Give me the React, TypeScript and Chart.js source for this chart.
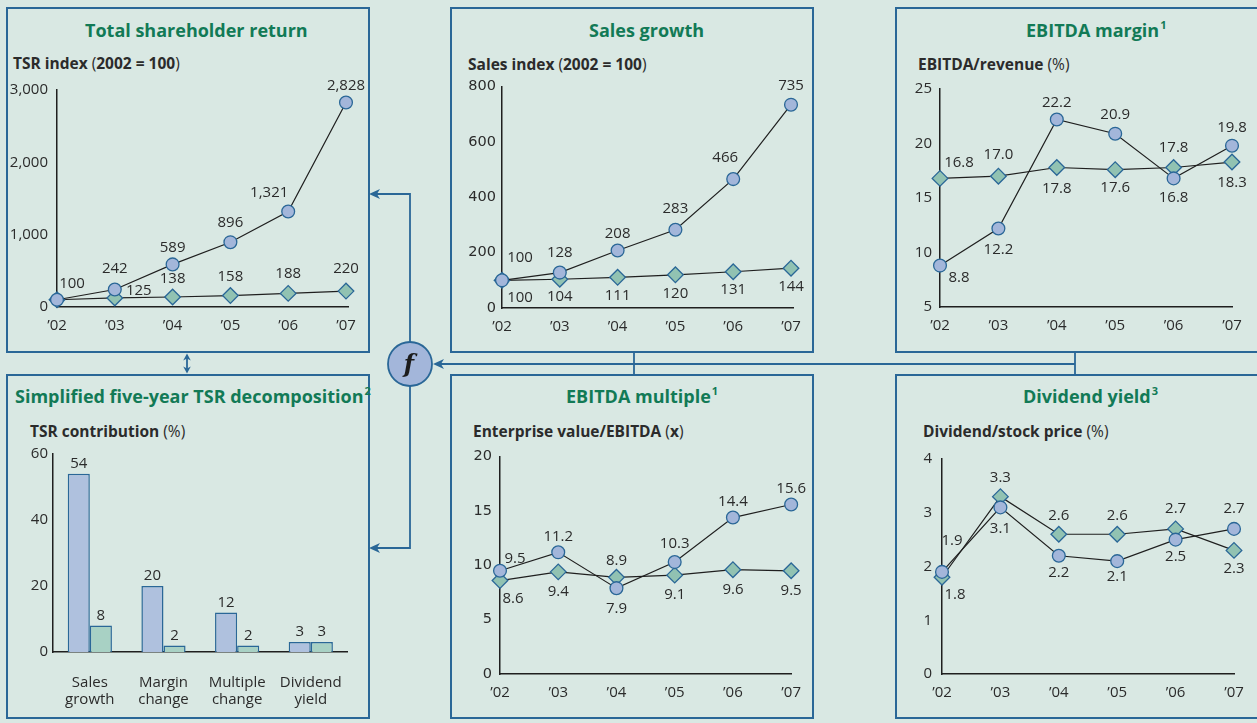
import React, { useEffect, useRef } from 'react';
import { Chart, registerables } from 'chart.js';

Chart.register(...registerables);

// ---------- data ----------
const years = ['’02', '’03', '’04', '’05', '’06', '’07'];

const tsrCompany = [100, 242, 589, 896, 1321, 2828];
const tsrPeers = [100, 125, 138, 158, 188, 220];

const salesCompany = [100, 128, 208, 283, 466, 735];
const salesPeers = [100, 104, 111, 120, 131, 144];

const marginCompany = [8.8, 12.2, 22.2, 20.9, 16.8, 19.8];
const marginPeers = [16.8, 17.0, 17.8, 17.6, 17.8, 18.3];

const multipleCompany = [9.5, 11.2, 7.9, 10.3, 14.4, 15.6];
const multiplePeers = [8.6, 9.4, 8.9, 9.1, 9.6, 9.5];

const yieldCompany = [1.9, 3.1, 2.2, 2.1, 2.5, 2.7];
const yieldPeers = [1.8, 3.3, 2.6, 2.6, 2.7, 2.3];

const decompCategories = ['Sales growth', 'Margin change', 'Multiple change', 'Dividend yield'];
const decompCompany = [54, 20, 12, 3];
const decompPeers = [8, 2, 2, 3];

// ---------- palette ----------
const BG = '#d9e8e3';
const BLUE = '#2a6797';
const GREEN_TITLE = '#127a56';
const TEXT = '#2b2b2b';
const AXIS = '#1f1f1f';
const CIRCLE_FILL = '#a3b6da';
const DIAMOND_FILL = '#91c2b2';
const BAR_BLUE = '#afc1de';
const BAR_GREEN = '#a8d1c4';
const FONT = '"Open Sans", "Noto Sans", sans-serif';
const WIDE_DIGITS = '"DejaVu Sans", sans-serif';
const LABEL_SIZE = 15;

type Off = [number, number] | null;

const fmtThousands = (v: number) => v.toLocaleString('en-US');
const fmtOneDecimal = (v: number) => v.toFixed(1);
const fmtInt = (v: number) => String(v);

// Draws each mark's value next to it, shifted by a per-point pixel offset.
function valueLabels(offsets: Off[][], fmt: (v: number) => string) {
  return {
    id: 'valueLabels',
    afterDatasetsDraw(chart: any) {
      const ctx = chart.ctx;
      ctx.save();
      ctx.font = `${LABEL_SIZE}px ${FONT}`;
      ctx.fillStyle = TEXT;
      ctx.textAlign = 'center';
      ctx.textBaseline = 'middle';
      chart.data.datasets.forEach((ds: any, i: number) => {
        const meta = chart.getDatasetMeta(i);
        meta.data.forEach((el: any, j: number) => {
          const o = offsets[i] && offsets[i][j];
          if (!o) return;
          const raw = ds.data[j];
          const v = typeof raw === 'number' ? raw : raw.y;
          ctx.fillText(fmt(v), el.x + o[0], el.y + o[1]);
        });
      });
      ctx.restore();
    },
  };
}

interface LineOpts {
  company: number[];
  peers: number[];
  yMin: number;
  yMax: number;
  yStep: number;
  yWidth: number;
  xHeight: number;
  padTop: number;
  padRight: number;
  xMax: number;
  yTickPad: number;
  yFont: string;
  yFmt: (v: number) => string;
  valueFmt: (v: number) => string;
  offsets: Off[][];
}

function lineConfig(o: LineOpts): any {
  const series = (vals: number[], style: string, fill: string, radius: number) => ({
    data: vals.map((y, x) => ({ x, y })),
    borderColor: AXIS,
    borderWidth: 1.2,
    pointStyle: style,
    pointRadius: radius,
    pointHoverRadius: radius,
    pointBackgroundColor: fill,
    pointBorderColor: BLUE,
    pointBorderWidth: 1.3,
    tension: 0,
    fill: false,
    clip: false,
  });
  return {
    type: 'line',
    data: {
      datasets: [
        series(o.company, 'circle', CIRCLE_FILL, 6.4),
        series(o.peers, 'rectRot', DIAMOND_FILL, 7.8),
      ],
    },
    options: {
      responsive: false,
      animation: false,
      devicePixelRatio: 1,
      events: [],
      layout: { padding: { top: o.padTop, right: o.padRight, left: 0, bottom: 0 } },
      plugins: { legend: { display: false }, tooltip: { enabled: false } },
      scales: {
        x: {
          type: 'linear',
          min: 0,
          max: o.xMax,
          grid: { display: false, drawTicks: false },
          border: { display: true, color: AXIS, width: 1.5 },
          ticks: {
            stepSize: 1,
            includeBounds: false,
            autoSkip: false,
            maxRotation: 0,
            padding: 10,
            color: TEXT,
            font: { family: FONT, size: LABEL_SIZE },
            callback: (v: number) => (Number.isInteger(v) && years[v] ? years[v] : ''),
          },
          afterFit: (s: any) => {
            s.height = o.xHeight;
          },
        },
        y: {
          min: o.yMin,
          max: o.yMax,
          grid: { display: false, drawTicks: false },
          border: { display: true, color: AXIS, width: 1.5 },
          ticks: {
            stepSize: o.yStep,
            padding: o.yTickPad,
            color: TEXT,
            font: { family: o.yFont, size: o.yFont === FONT ? LABEL_SIZE : 14.5 },
            callback: (v: number) => o.yFmt(v),
          },
          afterFit: (s: any) => {
            s.width = o.yWidth;
          },
        },
      },
    },
    plugins: [valueLabels(o.offsets, o.valueFmt)],
  };
}

function barConfig(): any {
  const barSet = (vals: number[], color: string) => ({
    data: vals,
    backgroundColor: color,
    borderColor: BLUE,
    borderWidth: 1.5,
    categoryPercentage: 0.6,
    barPercentage: 1.0,
  });
  const offs: Off[] = decompCategories.map(() => [0, -10]);
  return {
    type: 'bar',
    data: {
      labels: decompCategories.map((c) => c.split(' ')),
      datasets: [barSet(decompCompany, BAR_BLUE), barSet(decompPeers, BAR_GREEN)],
    },
    options: {
      responsive: false,
      animation: false,
      devicePixelRatio: 1,
      events: [],
      layout: { padding: { top: 13, right: 18, left: 0, bottom: 0 } },
      plugins: { legend: { display: false }, tooltip: { enabled: false } },
      scales: {
        x: {
          grid: { display: false, drawTicks: false },
          border: { display: true, color: AXIS, width: 1.5 },
          ticks: {
            padding: 22,
            color: TEXT,
            maxRotation: 0,
            autoSkip: false,
            font: { family: FONT, size: 15, lineHeight: 1.15 },
          },
          afterFit: (s: any) => {
            s.height = 64;
          },
        },
        y: {
          min: 0,
          max: 60,
          grid: { display: false, drawTicks: false },
          border: { display: true, color: AXIS, width: 1.5 },
          ticks: {
            stepSize: 20,
            padding: 5,
            color: TEXT,
            font: { family: FONT, size: LABEL_SIZE },
          },
          afterFit: (s: any) => {
            s.width = 44;
          },
        },
      },
    },
    plugins: [valueLabels([offs, offs], fmtInt)],
  };
}

function ChartCanvas(props: { left: number; top: number; width: number; height: number; build: () => any }) {
  const ref = useRef<HTMLCanvasElement>(null);
  useEffect(() => {
    const chart = new Chart(ref.current as HTMLCanvasElement, props.build());
    return () => chart.destroy();
  }, []);
  return (
    <canvas
      ref={ref}
      width={props.width}
      height={props.height}
      style={{ position: 'absolute', left: props.left, top: props.top, width: props.width, height: props.height }}
    />
  );
}

function Box(props: { left: number; top: number; width: number; height: number }) {
  return (
    <div
      style={{
        position: 'absolute',
        left: props.left,
        top: props.top,
        width: props.width,
        height: props.height,
        border: `2px solid ${BLUE}`,
        boxSizing: 'border-box',
      }}
    />
  );
}

function Title(props: { left: number; cy: number; children: React.ReactNode }) {
  return (
    <div
      style={{
        position: 'absolute',
        left: props.left,
        top: props.cy - 13,
        height: 26,
        lineHeight: '26px',
        fontSize: 18,
        fontWeight: 700,
        color: GREEN_TITLE,
        fontFamily: FONT,
        whiteSpace: 'nowrap',
      }}
    >
      {props.children}
    </div>
  );
}

function Sub(props: { left: number; cy: number; children: React.ReactNode }) {
  return (
    <div
      style={{
        position: 'absolute',
        left: props.left,
        top: props.cy - 11,
        height: 22,
        lineHeight: '22px',
        fontSize: 15.5,
        fontWeight: 400,
        color: TEXT,
        fontFamily: FONT,
        whiteSpace: 'nowrap',
      }}
    >
      {props.children}
    </div>
  );
}

const Sup = (p: { children: React.ReactNode }) => (
  <span style={{ fontSize: 11, position: 'relative', top: -8, marginLeft: 1 }}>{p.children}</span>
);

// Arrowhead with its tip at (x, y); angle in degrees, 0 = pointing left.
function Head(p: { x: number; y: number; angle: number; len?: number; half?: number }) {
  const len = p.len ?? 11;
  const half = p.half ?? 5;
  const notch = len * 0.72;
  return (
    <path
      d={`M ${p.x} ${p.y} L ${p.x + len} ${p.y - half} L ${p.x + notch} ${p.y} L ${p.x + len} ${p.y + half} Z`}
      fill={BLUE}
      transform={`rotate(${p.angle} ${p.x} ${p.y})`}
    />
  );
}

function Connectors() {
  return (
    <svg
      width={1257}
      height={723}
      style={{ position: 'absolute', left: 0, top: 0, pointerEvents: 'none' }}
    >
      <g stroke={BLUE} strokeWidth={1.8} fill="none">
        <polyline points="410,342 410,194 376,194" />
        <polyline points="410,386 410,548 376,548" />
        <line x1={1075} y1={364} x2={440} y2={364} />
        <line x1={634} y1={352} x2={634} y2={375} />
        <line x1={1075} y1={352} x2={1075} y2={375} />
        <line x1={187} y1={357} x2={187} y2={370} />
      </g>
      <Head x={369} y={194} angle={0} />
      <Head x={369} y={548} angle={0} />
      <Head x={433} y={364} angle={0} />
      <Head x={187} y={353.5} angle={90} len={7} half={3.8} />
      <Head x={187} y={373.5} angle={-90} len={7} half={3.8} />
      <circle cx={410} cy={364} r={22} fill={CIRCLE_FILL} stroke={BLUE} strokeWidth={1.8} />
      <text
        x={409}
        y={365}
        textAnchor="middle"
        dominantBaseline="middle"
        fontFamily='"DejaVu Serif", serif'
        fontStyle="italic"
        fontWeight="bold"
        fontSize={24}
        fill="#1c1c1c"
      >
        f
      </text>
    </svg>
  );
}

export default function App() {
  return (
    <div
      style={{
        position: 'fixed',
        left: 0,
        top: 0,
        width: 1257,
        height: 723,
        background: BG,
        overflow: 'hidden',
        fontFamily: FONT,
      }}
    >
      <Box left={6} top={7} width={364} height={346} />
      <Box left={450} top={7} width={364} height={346} />
      <Box left={895} top={7} width={370} height={346} />
      <Box left={6} top={374} width={364} height={345} />
      <Box left={450} top={374} width={364} height={345} />
      <Box left={895} top={374} width={370} height={345} />

      <Title left={85} cy={30}>Total shareholder return</Title>
      <Sub left={13} cy={63}>
        <b>TSR index</b> (<b>2002 = 100</b>)
      </Sub>

      <Title left={589} cy={30}>Sales growth</Title>
      <Sub left={468} cy={64}>
        <b>Sales index</b> (<b>2002 = 100</b>)
      </Sub>

      <Title left={1026} cy={30}>
        EBITDA margin<Sup>1</Sup>
      </Title>
      <Sub left={918} cy={64}>
        <b>EBITDA/revenue</b> (%)
      </Sub>

      <Title left={15} cy={396}>
        Simplified five-year TSR decomposition<Sup>2</Sup>
      </Title>
      <Sub left={30} cy={431}>
        <b>TSR contribution</b> (%)
      </Sub>

      <Title left={566} cy={396}>
        EBITDA multiple<Sup>1</Sup>
      </Title>
      <Sub left={473} cy={431}>
        <b>Enterprise value/EBITDA</b> (<b>x</b>)
      </Sub>

      <Title left={1023} cy={396}>
        Dividend yield<Sup>3</Sup>
      </Title>
      <Sub left={923} cy={431}>
        <b>Dividend/stock price</b> (%)
      </Sub>

      <ChartCanvas
        left={9}
        top={72}
        width={357}
        height={278}
        build={() =>
          lineConfig({
            company: tsrCompany,
            peers: tsrPeers,
            yMin: 0,
            yMax: 3000,
            yStep: 1000,
            yWidth: 48,
            xHeight: 43,
            padTop: 14,
            padRight: 16,
            xMax: 5.05,
            yTickPad: 9,
            yFont: FONT,
            yFmt: fmtThousands,
            valueFmt: fmtThousands,
            offsets: [
              [[15, -16], [0, -21], [0, -17], [0, -19], [-19, -19], [0, -17]],
              [null, [24, -7], [0, -18], [0, -19], [0, -20], [0, -22]],
            ],
          })
        }
      />

      <ChartCanvas
        left={453}
        top={72}
        width={358}
        height={278}
        build={() =>
          lineConfig({
            company: salesCompany,
            peers: salesPeers,
            yMin: 0,
            yMax: 800,
            yStep: 200,
            yWidth: 49,
            xHeight: 42,
            padTop: 14,
            padRight: 15,
            xMax: 5.05,
            yTickPad: 6,
            yFont: WIDE_DIGITS,
            yFmt: fmtInt,
            valueFmt: fmtInt,
            offsets: [
              [[18, -23], [0, -20], [0, -17], [0, -21], [-8, -21], [0, -19]],
              [[18, 17], [0, 18], [0, 18], [0, 19], [0, 18], [0, 19]],
            ],
          })
        }
      />

      <ChartCanvas
        left={898}
        top={72}
        width={357}
        height={278}
        build={() =>
          lineConfig({
            company: marginCompany,
            peers: marginPeers,
            yMin: 5,
            yMax: 25,
            yStep: 5,
            yWidth: 42,
            xHeight: 43,
            padTop: 10,
            padRight: 23,
            xMax: 5,
            yTickPad: 8,
            yFont: FONT,
            yFmt: fmtInt,
            valueFmt: fmtOneDecimal,
            offsets: [
              [[19, 12], [0, 21], [0, -17], [0, -19], [0, 19], [0, -18]],
              [[19, -16], [0, -21], [0, 21], [0, 18], [0, -20], [0, 21]],
            ],
          })
        }
      />

      <ChartCanvas left={9} top={440} width={357} height={276} build={barConfig} />

      <ChartCanvas
        left={453}
        top={440}
        width={358}
        height={276}
        build={() =>
          lineConfig({
            company: multipleCompany,
            peers: multiplePeers,
            yMin: 0,
            yMax: 20,
            yStep: 5,
            yWidth: 47,
            xHeight: 42,
            padTop: 14,
            padRight: 18,
            xMax: 5,
            yTickPad: 8,
            yFont: WIDE_DIGITS,
            yFmt: fmtInt,
            valueFmt: fmtOneDecimal,
            offsets: [
              [[15, -12], [0, -16], [0, 21], [0, -18], [0, -16], [0, -16]],
              [[13, 18], [0, 20], [0, -17], [0, 20], [0, 20], [0, 20]],
            ],
          })
        }
      />

      <ChartCanvas
        left={898}
        top={440}
        width={357}
        height={276}
        build={() =>
          lineConfig({
            company: yieldCompany,
            peers: yieldPeers,
            yMin: 0,
            yMax: 4,
            yStep: 1,
            yWidth: 44,
            xHeight: 42,
            padTop: 15,
            padRight: 21,
            xMax: 5,
            yTickPad: 10,
            yFont: FONT,
            yFmt: fmtInt,
            valueFmt: fmtOneDecimal,
            offsets: [
              [[10, -31], [0, 21], [0, 17], [0, 16], [0, 17], [0, -20]],
              [[13, 17], [0, -19], [0, -19], [0, -19], [0, -20], [0, 18]],
            ],
          })
        }
      />

      <Connectors />
    </div>
  );
}
